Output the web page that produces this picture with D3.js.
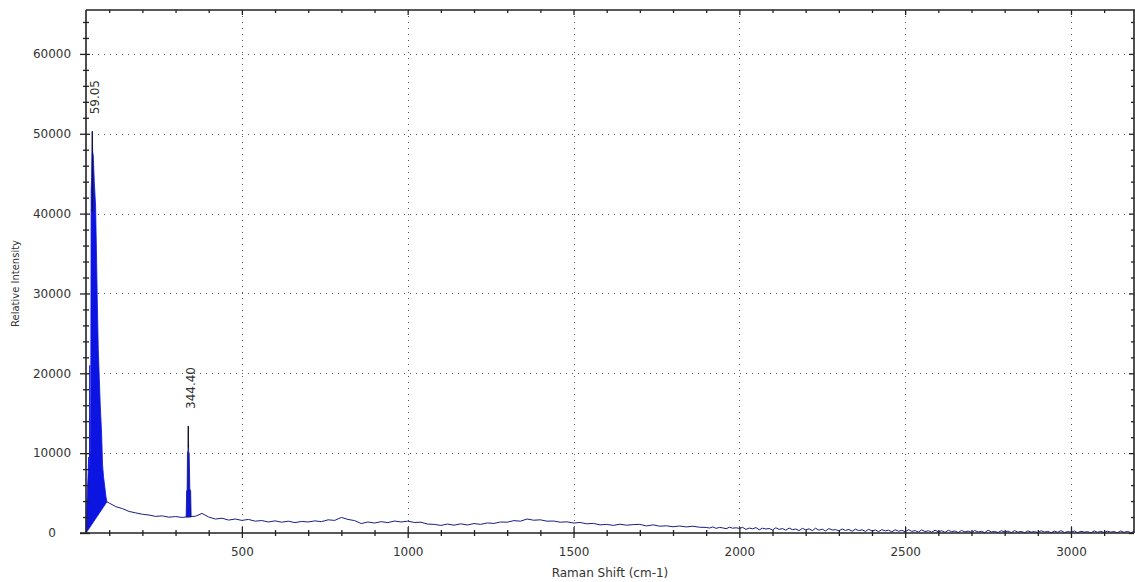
<!DOCTYPE html>
<html>
<head>
<meta charset="utf-8">
<script src="https://cdn.jsdelivr.net/npm/d3@7"></script>
<style>
body { margin: 0; background: #fff; }
svg text { font-family: "DejaVu Sans", sans-serif; fill: #333; }
</style>
</head>
<body>
<svg id="chart" width="1135" height="582"></svg>
<script>
const LEFT = 86, RIGHT = 1134, TOP = 10, BOTTOM = 533;

const X_DOMAIN = [30, 3190];
const Y_DOMAIN = [0, 65500];

const xMajorTicks = [500, 1000, 1500, 2000, 2500, 3000];
const yMajorTicks = [0, 10000, 20000, 30000, 40000, 50000, 60000];
const xMinorStep = 100;
const yMinorStep = 2000;

// big peak near 59 cm-1, drawn as a filled envelope
const peak1Shift = [30, 32, 34, 36, 38, 39.5, 40.5, 41.2, 41.8, 43.5, 44.5, 45.5, 47, 49, 50, 52, 55, 59, 62, 64, 67, 70, 73, 77, 80, 83, 86, 90, 93];
const peak1Upper = [0, 2800, 5000, 7000, 9500, 8000, 9000, 21000, 9500, 10500, 18500, 43000, 44500, 50300, 47800, 47200, 44000, 40900, 34000, 29200, 23000, 19500, 16000, 12500, 8500, 7000, 6000, 4600, 3900];
const peak1LowShift = [30, 93];
const peak1Lower = [0, 3900];

// peak at 344 cm-1
const peak2Shift = [332, 333.5, 335, 336, 337.5, 338.5, 339.5, 341, 343, 345.5, 347];
const peak2Int = [2000, 5300, 5400, 10100, 10300, 13400, 10200, 10000, 5500, 5300, 2000];

// baseline, every 20 cm-1 from 100 to 1880
const baseAStart = 100, baseAStep = 20;
const baseA = [
  3750, 3300, 3050, 2700, 2520, 2350, 2250, 2080, 2150, 1980,
  2060, 1950, 2050, 2100, 2450, 2000, 1750, 1850, 1620, 1750,
  1580, 1700, 1480, 1560, 1380, 1520, 1350, 1480, 1300, 1450,
  1380, 1520, 1420, 1650, 1580, 1950, 1700, 1550, 1180, 1380,
  1250, 1420, 1300, 1500, 1380, 1480, 1320, 1350, 1120, 1080,
  950, 1120, 980, 1150, 1000, 1180, 1080, 1260, 1200, 1380,
  1350, 1550, 1480, 1750, 1600, 1650, 1480, 1500, 1350, 1400,
  1250, 1320, 1150, 1200, 1020, 1080, 950, 1100, 980, 1050,
  1080, 880, 1020, 850, 900, 780, 880, 760, 850, 720
];

// baseline, every 10 cm-1 from 1900 to 3190
const baseBStart = 1900, baseBStep = 10;
const baseB = [
  700, 620, 760, 580, 700, 640, 540, 720, 600, 650,
  580, 700, 450, 620, 520, 680, 400, 600, 500, 560,
  380, 650, 450, 560, 350, 620, 420, 500, 300, 580,
  400, 520, 300, 600, 350, 480, 250, 550, 380, 420,
  280, 500, 320, 450, 220, 480, 300, 400, 200, 460,
  250, 380, 180, 420, 260, 350, 150, 400, 220, 330,
  160, 420, 200, 300, 120, 380, 180, 280, 100, 350,
  150, 280, 80, 330, 180, 250, 60, 320, 140, 240,
  80, 300, 120, 220, 40, 350, 130, 200, 60, 280,
  120, 240, 50, 300, 100, 200, 30, 260, 110, 180,
  50, 280, 120, 200, 40, 230, 90, 300, 60, 180,
  100, 250, 40, 220, 110, 170, 20, 260, 90, 200,
  60, 220, 110, 180, 30, 250, 80, 200, 50, 170
];

const peakLabels = ["59.05", "344.40"];
const peakLabelShift = [49, 338.5];
const peakLabelTop = [50300, 13400];

const svg = d3.select('#chart');
const x = d3.scaleLinear().domain(X_DOMAIN).range([LEFT, RIGHT]);
const y = d3.scaleLinear().domain(Y_DOMAIN).range([BOTTOM, TOP]);

const xMinorTicks = d3.range(xMinorStep, X_DOMAIN[1], xMinorStep).filter(d => d > X_DOMAIN[0] && !xMajorTicks.includes(d));
const yMinorTicks = d3.range(yMinorStep, Y_DOMAIN[1], yMinorStep).filter(d => !yMajorTicks.includes(d));

// grid
const grid = svg.append('g').attr('stroke', '#555').attr('stroke-dasharray', '1,5').attr('shape-rendering', 'crispEdges');
grid.selectAll('.vg').data(xMajorTicks).join('line')
    .attr('x1', d => Math.round(x(d)) + 0.5).attr('x2', d => Math.round(x(d)) + 0.5)
    .attr('y1', TOP).attr('y2', BOTTOM);
grid.selectAll('.hg').data(yMajorTicks.filter(d => d > 0)).join('line')
    .attr('y1', d => Math.round(y(d)) + 0.5).attr('y2', d => Math.round(y(d)) + 0.5)
    .attr('x1', LEFT).attr('x2', RIGHT);

// spectrum
const line = d3.line().x(d => x(d[0])).y(d => y(d[1]));
const basePts = [[93, 3900]]
    .concat(baseA.map((v, i) => [baseAStart + i * baseAStep, v]))
    .concat(baseB.map((v, i) => [baseBStart + i * baseBStep, v]));
svg.append('path').datum(basePts)
    .attr('d', line).attr('fill', 'none').attr('stroke', '#1c1c86').attr('stroke-width', 1);

const peak1Pts = peak1Shift.map((s, i) => [s, peak1Upper[i]])
    .concat(peak1LowShift.map((s, i) => [s, peak1Lower[i]]).reverse());
svg.append('path').datum(peak1Pts)
    .attr('d', d => line(d) + 'Z').attr('fill', '#0b14e0').attr('stroke', '#0b14e0').attr('stroke-width', 0.8);

const peak2Pts = peak2Shift.map((s, i) => [s, peak2Int[i]]);
svg.append('path').datum(peak2Pts)
    .attr('d', d => line(d) + 'Z').attr('fill', '#0b14e0').attr('stroke', '#101070').attr('stroke-width', 0.8);

// peak tops as thin dark lines
svg.append('g').selectAll('line').data(peakLabelShift).join('line')
    .attr('x1', d => x(d)).attr('x2', d => x(d))
    .attr('y1', (d, i) => y(peakLabelTop[i])).attr('y2', (d, i) => y(peakLabelTop[i] * 0.8))
    .attr('stroke', '#111').attr('stroke-width', 1);

// axes
function ticks(axis, tx, ty, size, values) {
    const g = svg.append('g').attr('transform', `translate(${tx},${ty})`)
        .call(axis.tickValues(values).tickSize(size).tickFormat(''));
    g.select('.domain').remove();
    g.selectAll('line').attr('stroke', '#222').attr('stroke-width', 1.3);
    return g;
}
ticks(d3.axisBottom(x), 0, BOTTOM, 5, xMajorTicks);
ticks(d3.axisTop(x), 0, BOTTOM, 6, xMajorTicks);
ticks(d3.axisBottom(x), 0, BOTTOM, 3, xMinorTicks);
ticks(d3.axisTop(x), 0, BOTTOM, 3, xMinorTicks);
ticks(d3.axisBottom(x), 0, TOP, 5, xMajorTicks);
ticks(d3.axisBottom(x), 0, TOP, 3, xMinorTicks);

ticks(d3.axisLeft(y), LEFT, 0, 6, yMajorTicks);
ticks(d3.axisRight(y), LEFT, 0, 4, yMajorTicks);
ticks(d3.axisLeft(y), LEFT, 0, 3, yMinorTicks);
ticks(d3.axisRight(y), LEFT, 0, 3, yMinorTicks);
ticks(d3.axisLeft(y), RIGHT, 0, 5, yMajorTicks);
ticks(d3.axisLeft(y), RIGHT, 0, 3, yMinorTicks);

// tick labels
const xLab = svg.append('g').attr('transform', `translate(0,${BOTTOM})`)
    .call(d3.axisBottom(x).tickValues(xMajorTicks).tickSize(5).tickPadding(9).tickFormat(d3.format('d')));
xLab.select('.domain').remove();
xLab.selectAll('line').remove();
xLab.selectAll('text').attr('font-size', 12).attr('font-family', '"DejaVu Sans", sans-serif').attr('fill', '#333');

const yLab = svg.append('g').attr('transform', `translate(${LEFT},0)`)
    .call(d3.axisLeft(y).tickValues(yMajorTicks).tickSize(6).tickFormat(d3.format('d')));
yLab.select('.domain').remove();
yLab.selectAll('line').remove();
yLab.selectAll('text').attr('x', -34).attr('text-anchor', 'middle')
    .attr('font-size', 12).attr('font-family', '"DejaVu Sans", sans-serif').attr('fill', '#333');

// frame
const frame = svg.append('g').attr('stroke', '#222').attr('stroke-width', 1.6).attr('fill', 'none');
frame.append('line').attr('x1', 80).attr('x2', RIGHT).attr('y1', BOTTOM).attr('y2', BOTTOM);
frame.append('line').attr('x1', LEFT).attr('x2', RIGHT + 1).attr('y1', TOP).attr('y2', TOP);
frame.append('line').attr('x1', LEFT).attr('x2', LEFT).attr('y1', TOP).attr('y2', BOTTOM + 1);
frame.append('line').attr('x1', RIGHT).attr('x2', RIGHT).attr('y1', TOP).attr('y2', BOTTOM);

// peak labels
svg.append('g').selectAll('text').data(peakLabels).join('text')
    .attr('transform', (d, i) => `translate(${x(peakLabelShift[i]) + 2},${y(peakLabelTop[i]) - 17}) rotate(-90)`)
    .attr('dy', '0.35em')
    .attr('font-size', 12)
    .text(d => d);

// axis titles
svg.append('text').attr('x', (LEFT + RIGHT) / 2).attr('y', 577)
    .attr('text-anchor', 'middle').attr('font-size', 12).text('Raman Shift (cm-1)');
svg.append('text').attr('transform', `translate(19,${(TOP + BOTTOM) / 2 + 12}) rotate(-90)`)
    .attr('text-anchor', 'middle').attr('font-size', 10).attr('font-family', '"Liberation Sans", Arial, sans-serif')
    .text('Relative Intensity');
</script>
</body>
</html>
